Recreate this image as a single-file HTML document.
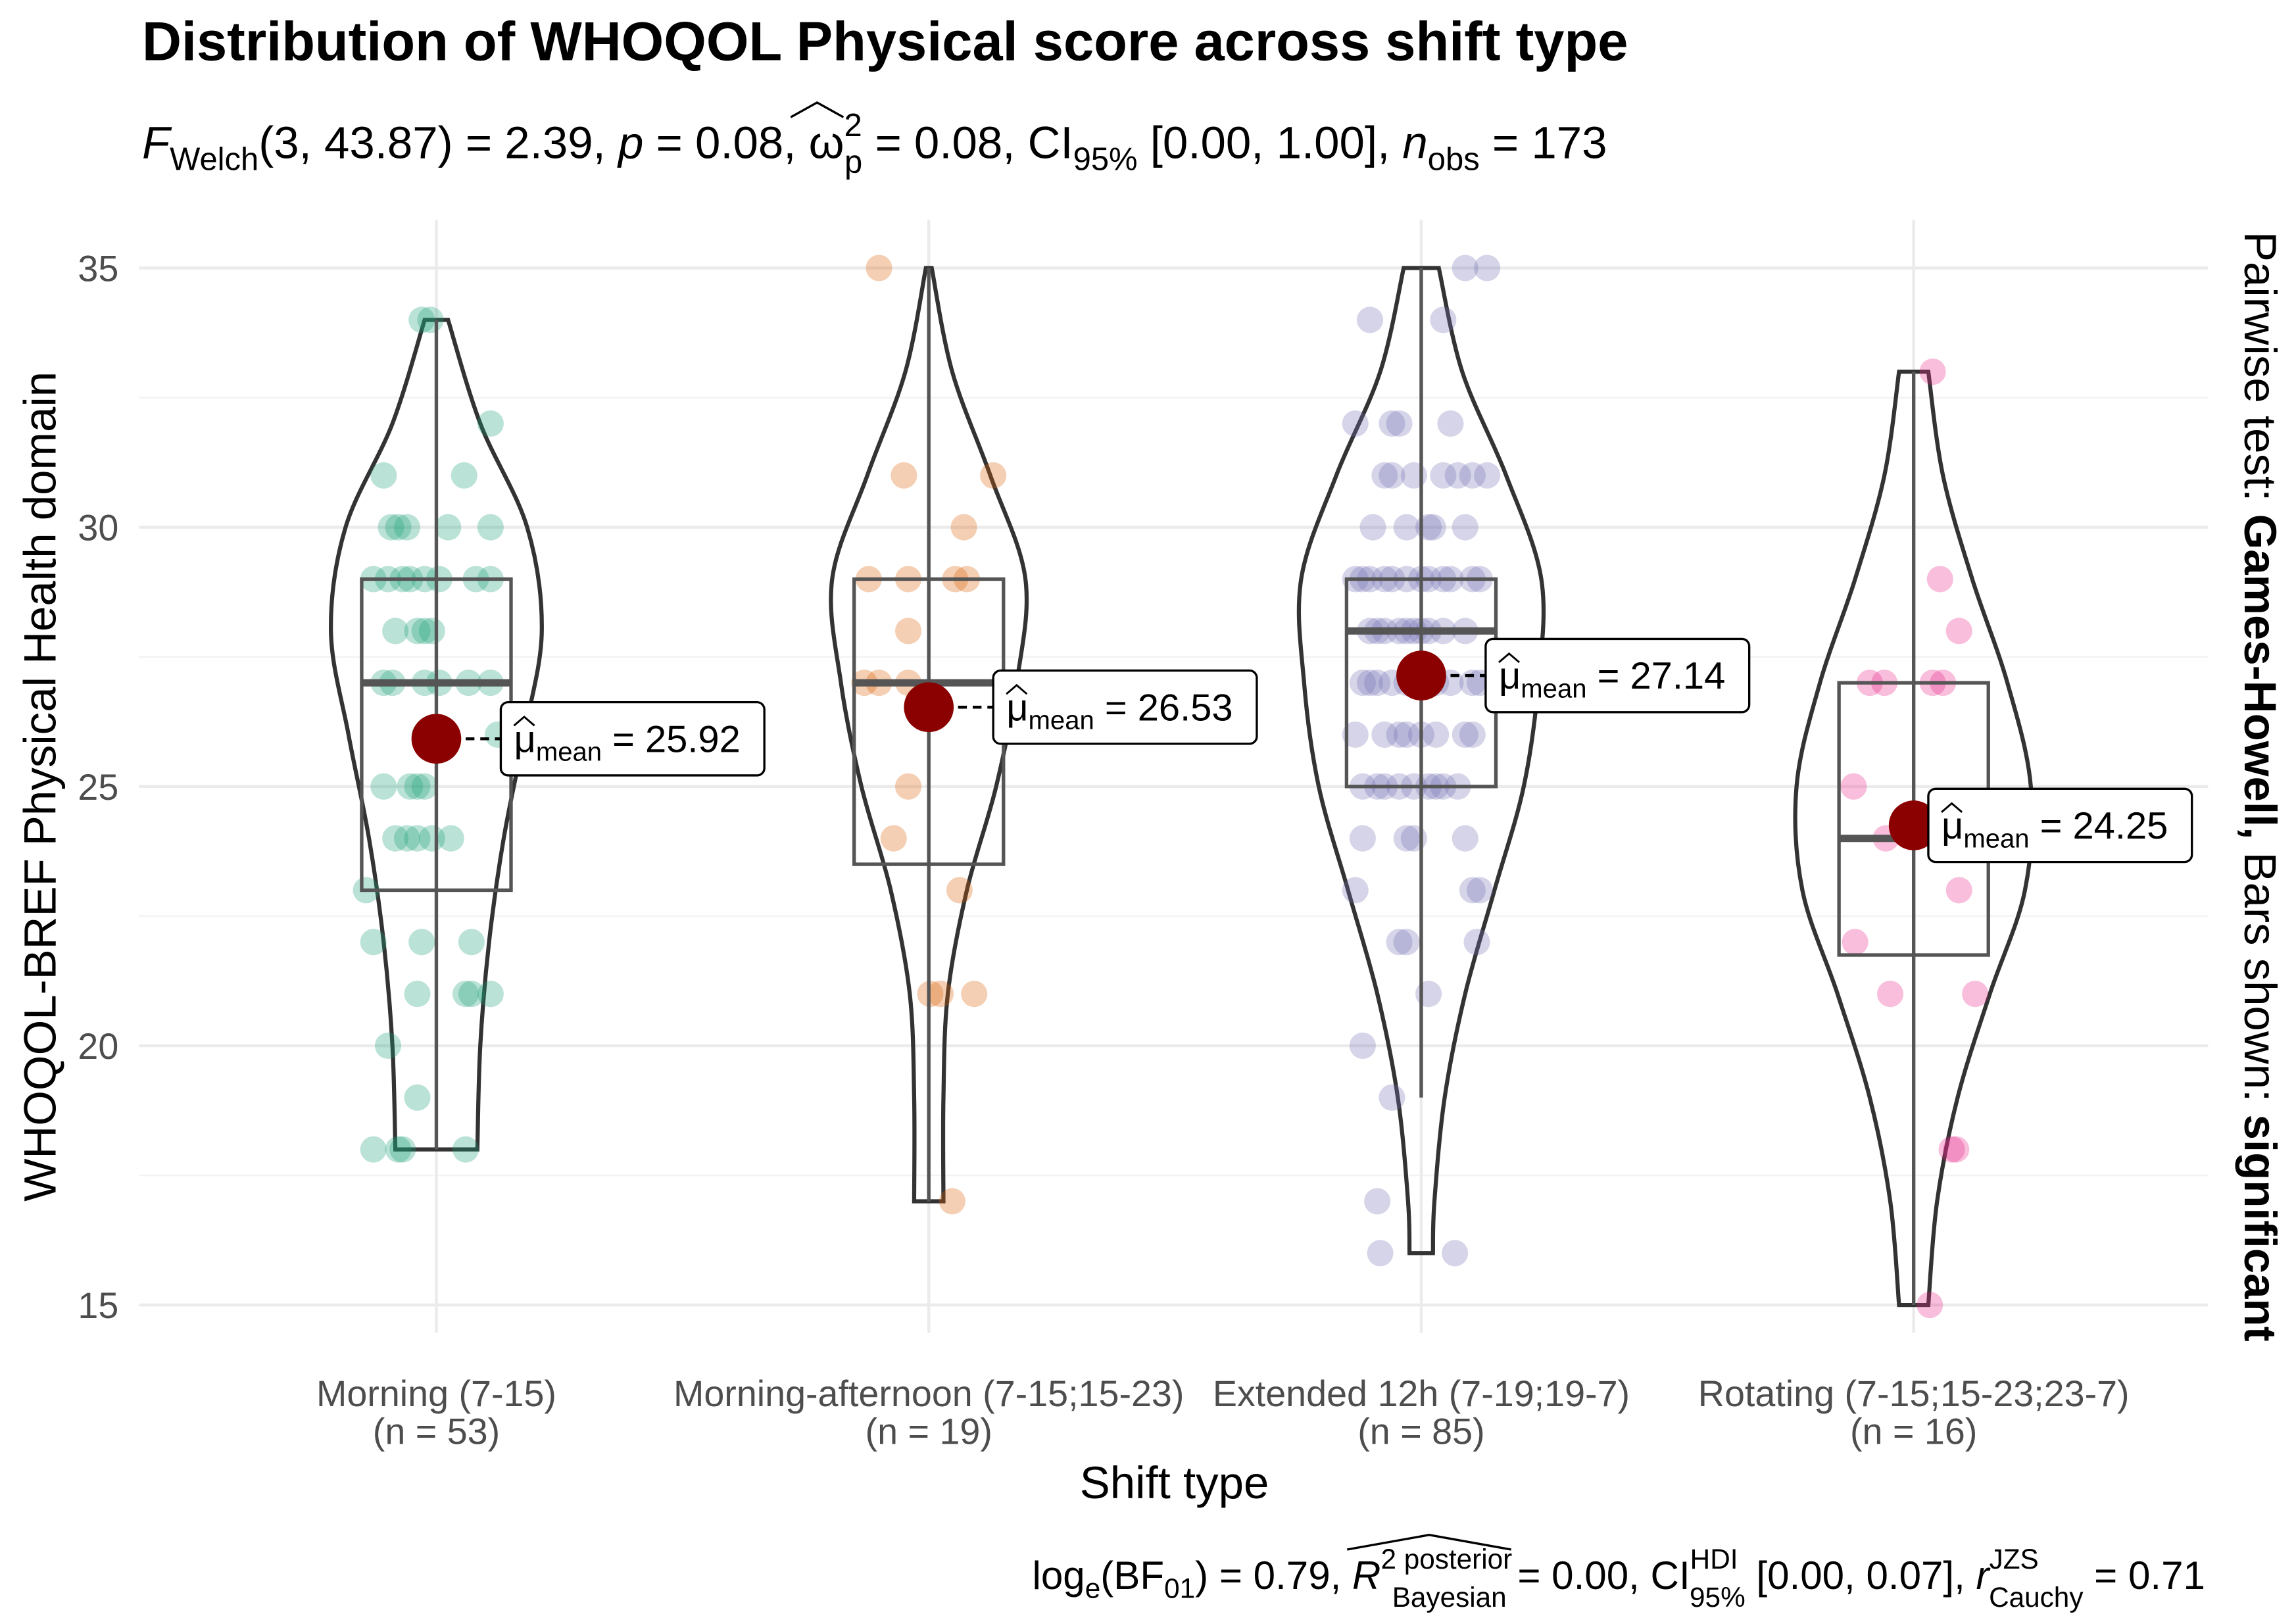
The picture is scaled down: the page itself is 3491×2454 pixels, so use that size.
<!DOCTYPE html>
<html><head><meta charset="utf-8">
<style>
html,body{margin:0;padding:0;background:#fff;}
svg{display:block;font-family:"Liberation Sans",sans-serif;}
</style></head>
<body>
<svg id="chart" width="3491" height="2454" viewBox="0 0 1568 1102" preserveAspectRatio="none" xmlns="http://www.w3.org/2000/svg">
<rect width="1568" height="1102" fill="#fff"/>
<g id="grid"></g>
<g id="violins"></g>
<g id="points"></g>
<g id="boxes"></g>
<g id="means"></g>
<g id="axes"></g>
<text x="97" y="41" font-size="37.3" font-weight="bold" fill="#000">Distribution of WHOQOL Physical score across shift type</text>
<text x="97" y="108" font-size="31" fill="#000"><tspan font-style="italic">F</tspan><tspan font-size="22" dy="8">Welch</tspan><tspan dy="-8">(3, 43.87) = 2.39, </tspan><tspan font-style="italic">p</tspan><tspan> = 0.08, ω</tspan><tspan font-size="22" dy="-15">2</tspan><tspan font-size="22" dx="-12" dy="25">p</tspan><tspan dy="-10"> = 0.08, CI</tspan><tspan font-size="22" dy="8">95%</tspan><tspan dy="-8"> [0.00, 1.00], </tspan><tspan font-style="italic">n</tspan><tspan font-size="22" dy="8">obs</tspan><tspan dy="-8"> = 173</tspan></text>
<path d="M540 80 L558 70 L576 80" fill="none" stroke="#000" stroke-width="1.5"/>
<text transform="translate(38,537) rotate(-90)" text-anchor="middle" font-size="31" fill="#000">WHOQOL-BREF Physical Health domain</text>
<text x="802" y="1023" text-anchor="middle" font-size="31" fill="#000">Shift type</text>
<text transform="translate(1533,537) rotate(90)" text-anchor="middle" font-size="31" fill="#000">Pairwise test: <tspan font-weight="bold">Games-Howell,</tspan> Bars shown: <tspan font-weight="bold">significant</tspan></text>
<text x="1506" y="1085" text-anchor="end" font-size="27" fill="#000">log<tspan font-size="19" dy="6">e</tspan><tspan dy="-6">(BF</tspan><tspan font-size="19" dy="6">01</tspan><tspan dy="-6">) = 0.79, </tspan><tspan font-style="italic">R</tspan><tspan font-size="19" dy="-14">2 posterior</tspan><tspan font-size="19" dx="-82" dy="26">Bayesian</tspan><tspan dy="-12"> = 0.00, CI</tspan><tspan font-size="19" dy="-14">HDI</tspan><tspan font-size="19" dx="-33" dy="26">95%</tspan><tspan dy="-12"> [0.00, 0.07], </tspan><tspan font-style="italic">r</tspan><tspan font-size="19" dy="-14">JZS</tspan><tspan font-size="19" dx="-34" dy="26">Cauchy</tspan><tspan dy="-12"> = 0.71</tspan></text>
<path d="M920 1058 L976 1048 L1032 1058" fill="none" stroke="#000" stroke-width="1.5"/>
</svg>
<script>
const categories=["Morning (7-15)","Morning-afternoon (7-15;15-23)","Extended 12h (7-19;19-7)","Rotating (7-15;15-23;23-7)"];
const groupN=[53,19,85,16];
const colors=["#1b9e77","#d95f02","#7570b3","#e7298a"];
const means=[25.92,26.53,27.14,24.25];
const q1=[23,23.5,25,21.75];
const medians=[27,27,28,24];
const q3=[29,29,29,27];
const whiskLo=[18,17,19,15];
const whiskHi=[34,35,35,33];
const yTicks=[15,20,25,30,35];
const violinLevels=[
 [34,32,30,28,26,24,22,20,18],
 [35,33,31,29,27,25,23,21,19,17],
 [35,33,31,29,27,25,23,21,19,17,16],
 [33,31,29,27,25,23,21,19,17,15]];
const violinWidths=[
 [8,30,62,72,60,46,36,30,28],
 [2,16,42,66,60,46,26,13,10,10],
 [12,28,58,82,80,70,50,30,16,9,8],
 [10,20,40,64,80,76,52,30,16,10]];
const pts0=[[34,-10],[34,-4],[32,37],[31,-36],[31,19],[30,-31],[30,-26],[30,8],[30,37],[29,-43],[29,-33],[29,-18],[29,-8],[29,2],[29,27],[29,37],[28,-28],[28,-13],[28,-8],[27,-36],[27,-8],[27,2],[27,22],[27,37],[26,42],[25,-36],[25,-18],[25,-13],[24,-28],[24,-13],[24,-3],[24,10],[23,-48],[22,-43],[22,24],[21,-13],[21,20],[21,24],[21,37],[20,-33],[19,-13],[18,-43],[18,-26],[18,-23],[18,20],[26,-8],[28,-3],[25,-8],[29,-23],[27,-30],[24,-20],[30,-20],[22,-10]];
const pts1=[[35,-34],[31,-17],[31,44],[30,24],[29,-41],[29,-14],[29,18],[29,26],[28,-14],[27,-44],[27,-34],[27,-14],[25,-14],[24,-24],[23,21],[21,1],[21,8],[21,31],[17,16]];
const pts2=[[35,30],[35,45],[34,-35],[34,15],[32,-45],[32,-20],[32,-15],[32,20],[31,-25],[31,-20],[31,15],[31,25],[31,35],[31,45],[30,-33],[30,5],[30,8],[30,30],[29,-45],[29,-40],[29,-35],[29,-25],[29,-20],[29,-10],[29,5],[29,15],[29,20],[29,35],[29,40],[28,-35],[28,-30],[28,-25],[28,-15],[28,-10],[28,-5],[28,5],[28,15],[28,30],[27,-40],[27,-35],[27,-30],[27,-20],[27,-10],[27,20],[27,35],[27,40],[26,-45],[26,-25],[26,-15],[26,-10],[26,10],[26,30],[26,35],[25,-40],[25,-30],[25,-25],[25,-15],[25,-5],[25,5],[25,15],[25,25],[24,-40],[24,-10],[24,30],[23,-45],[23,35],[23,40],[22,-15],[22,-10],[22,38],[21,5],[20,-40],[19,-20],[17,-30],[16,-28],[16,23],[28,0],[26,0],[30,-10],[27,0],[25,10],[24,-5],[29,0],[31,-5],[27,10]];
const pts3=[[33,13],[29,18],[28,31],[27,-30],[27,13],[27,20],[25,-41],[24,-19],[23,31],[22,-40],[21,-16],[21,42],[18,26],[18,29],[15,11],[27,-20]];
const allPts=[pts0,pts1,pts2,pts3];
const NS="http://www.w3.org/2000/svg";
const xPos=i=>298+i*336.3;
const yPos=v=>183+(35-v)*35.4;
const labelOffset=[44,44,44,10];
const L=95,R=1508,T=150,B=910;
function mk(tag,attrs,parent){const e=document.createElementNS(NS,tag);for(const k in attrs)e.setAttribute(k,attrs[k]);parent.appendChild(e);return e;}
const grid=document.getElementById('grid');
for(let v=15;v<=35;v+=2.5){
 const g=mk('line',{x1:L,x2:R,y1:yPos(v),y2:yPos(v),stroke:(v%5===0)?'#ebebeb':'#f3f3f3','stroke-width':(v%5===0)?2:1.2},grid);
 
 
}
categories.forEach((c,i)=>{
 const g=mk('line',{x1:xPos(i),x2:xPos(i),y1:T,y2:B,stroke:'#ebebeb','stroke-width':2},grid);
 
 
});
const axes=document.getElementById('axes');
yTicks.forEach(v=>{
 const t=mk('text',{x:81,y:yPos(v)+9,'text-anchor':'end','font-size':25,fill:'#4d4d4d'},axes);
 t.textContent=v;
 
 
});
categories.forEach((c,i)=>{
 const t=mk('text',{x:xPos(i),y:960,'text-anchor':'middle','font-size':25,fill:'#4d4d4d'},axes);
 t.textContent=c;
 
 
 const t2=mk('text',{x:xPos(i),y:986,'text-anchor':'middle','font-size':25,fill:'#4d4d4d'},axes);
 t2.textContent='(n = '+groupN[i]+')';
 
 
});
function smooth(p){let d='M'+p[0][0]+' '+p[0][1];for(let i=0;i<p.length-1;i++){const p0=p[Math.max(0,i-1)],p1=p[i],p2=p[i+1],p3=p[Math.min(p.length-1,i+2)];d+=' C'+(p1[0]+(p2[0]-p0[0])/6)+' '+(p1[1]+(p2[1]-p0[1])/6)+' '+(p2[0]-(p3[0]-p1[0])/6)+' '+(p2[1]-(p3[1]-p1[1])/6)+' '+p2[0]+' '+p2[1];}return d;}
const vg=document.getElementById('violins');
categories.forEach((c,i)=>{
 const x=xPos(i),lv=violinLevels[i],w=violinWidths[i];
 const right=lv.map((v,k)=>[x+w[k],yPos(v)]);
 const left=lv.map((v,k)=>[x-w[k],yPos(v)]).reverse();
 const d=smooth(right)+' L'+left[0][0]+' '+left[0][1]+smooth(left).replace(/^M[^C]*/,' ')+' Z';
 const p=mk('path',{d:d,fill:'none',stroke:'#333','stroke-width':2.8},vg);
 
 
});
const pg=document.getElementById('points');
allPts.forEach((arr,i)=>{arr.forEach(pt=>{
 const c=mk('circle',{cx:xPos(i)+pt[1],cy:yPos(pt[0]),r:9,fill:colors[i],'fill-opacity':0.3},pg);
 
 
});});
const bg=document.getElementById('boxes');
categories.forEach((c,i)=>{
 const x=xPos(i);
 const w=mk('line',{x1:x,x2:x,y1:yPos(whiskHi[i]),y2:yPos(whiskLo[i]),stroke:'#555','stroke-width':2.4},bg);
 
 
 const r=mk('rect',{x:x-51,y:yPos(q3[i]),width:102,height:yPos(q1[i])-yPos(q3[i]),fill:'none',stroke:'#555','stroke-width':2.4},bg);
 
 
 const m=mk('line',{x1:x-51,x2:x+51,y1:yPos(medians[i]),y2:yPos(medians[i]),stroke:'#555','stroke-width':5},bg);
 
 
});
const mg=document.getElementById('means');
categories.forEach((c,i)=>{
 const x=xPos(i),y=yPos(means[i]);
 const bx=x+labelOffset[i];
 const ln=mk('line',{x1:x,x2:bx,y1:y,y2:y,stroke:'#000','stroke-width':2,'stroke-dasharray':'6,4'},mg);
 
 
 const dot=mk('circle',{cx:x,cy:y,r:17,fill:'#8b0000'},mg);
 
 
 const r=mk('rect',{x:bx,y:y-25,width:180,height:50,rx:5,fill:'#fff',stroke:'#000','stroke-width':1.5},mg);
 
 
 const t=mk('text',{x:bx+9,y:y+9,'font-size':26,fill:'#000'},mg);
 t.innerHTML='μ<tspan font-size="18" dy="6">mean</tspan><tspan dy="-6"> = '+means[i].toFixed(2)+'</tspan>';
 
 
 mk('path',{d:'M'+(bx+9)+' '+(y-9)+' L'+(bx+16)+' '+(y-15)+' L'+(bx+23)+' '+(y-9),fill:'none',stroke:'#000','stroke-width':1.3},mg);
});
</script>
</body></html>
